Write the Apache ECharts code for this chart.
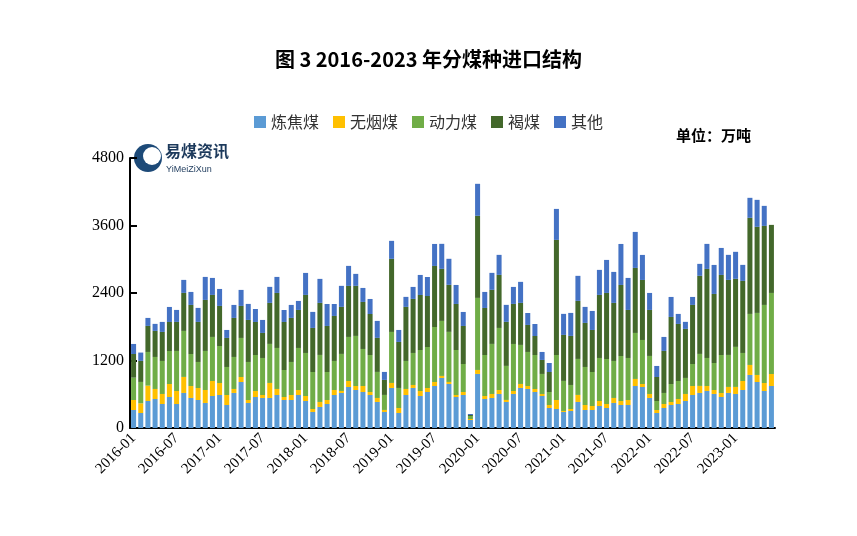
<!DOCTYPE html>
<html>
<head>
<meta charset="utf-8">
<script src="https://cdn.jsdelivr.net/npm/echarts@6/dist/echarts.min.js"></script>
<style>body{margin:0}#chart{width:857px;height:536px}</style>
</head>
<body>
<div id="chart"></div>
<script>
// 月份 2016-01 ~ 2023-06
var months = [];
for (var y = 2016; y <= 2023; y++) {
    for (var m = 1; m <= 12; m++) {
        if (y == 2023 && m > 6) break;
        months.push(y + "-" + (m < 10 ? "0" + m : m));
    }
}
var coking = [320,267,480,516,427,551,427,623,534,498,445,569,587,409,623,818,445,551,534,534,587,498,498,587,480,285,374,427,587,623,
    729,676,640,587,463,285,712,267,587,712,569,640,747,890,783,551,587,142,961,516,534,605,463,605,712,694,640,569,356,338,
    285,302,463,320,320,391,356,445,409,409,747,729,534,267,356,409,427,480,587,623,658,605,551,623,605,676,943,818,658,747];
var anthracite = [178,172,273,178,178,231,231,285,213,213,231,267,213,178,71,89,53,107,53,267,107,53,89,89,89,53,89,71,89,36,
    107,71,107,53,71,36,89,89,107,53,89,71,71,36,36,36,53,18,71,53,71,71,36,53,71,53,53,36,53,160,
    18,36,125,89,71,89,71,89,71,89,125,53,71,53,71,53,89,125,160,125,89,71,71,107,125,160,178,125,142,213];
var steam = [397,380,599,569,587,587,712,818,569,463,694,783,658,498,569,694,676,640,658,694,729,480,587,747,765,658,836,498,516,658,
    783,890,658,658,463,267,907,356,498,569,729,729,978,978,890,800,498,53,1281,729,890,1103,605,836,694,605,605,356,231,800,
    534,427,640,676,605,765,800,658,800,747,818,783,676,160,196,320,320,285,391,569,498,480,676,569,712,498,907,1103,1388,1441];
var lignite = [421,374,463,463,516,516,516,676,872,712,907,747,712,516,694,569,747,587,445,729,978,854,783,676,1032,783,925,818,800,836,
    907,890,836,729,605,267,1299,818,961,961,978,907,1085,925,836,818,676,18,1459,836,961,943,783,712,747,480,338,249,356,2046,
    818,872,1032,783,747,1121,1174,1032,1263,854,1156,1067,818,427,747,1192,1014,872,1050,1388,1583,1227,1423,1334,1210,1281,1708,1530,1405,1210];
var other = [178,148,142,125,178,267,213,231,231,249,409,302,302,142,231,285,285,231,231,285,285,213,231,160,391,285,427,391,213,374,
    356,213,249,267,302,142,320,213,178,213,356,338,391,445,463,338,249,18,569,285,302,356,302,302,374,213,213,142,160,551,
    374,409,445,285,338,445,587,551,729,569,640,445,302,196,249,356,178,125,142,213,445,516,480,445,480,285,356,480,356,0];
var names = ["炼焦煤", "无烟煤", "动力煤", "褐煤", "其他"];
var colors = ["#5B9BD5", "#FFC000", "#70AD47", "#43682B", "#4472C4"];
var yTicks = [0, 1200, 2400, 3600, 4800];

var dataList = [coking, anthracite, steam, lignite, other];
var series = [];
for (var i = 0; i < names.length; i++) {
    series.push({
        name: names[i],
        type: 'bar',
        stack: 'total',
        barCategoryGap: '30%',
        itemStyle: {color: colors[i]},
        data: dataList[i]
    });
}
var serif = '"Liberation Serif", "Noto Sans CJK SC", serif';
var option = {
    animation: false,
    title: {
        text: '图 3 2016-2023 年分煤种进口结构',
        left: 'center',
        top: 44,
        textStyle: {fontSize: 20, fontWeight: 'bold', color: '#000', fontFamily: '"Noto Sans CJK SC", sans-serif'}
    },
    legend: {
        data: names,
        top: 109,
        left: 'center',
        itemWidth: 12,
        itemHeight: 12,
        itemGap: 14,
        icon: 'rect',
        textStyle: {fontSize: 16, color: '#333', fontFamily: '"Noto Sans CJK SC", sans-serif'}
    },
    graphic: [
        {type: 'text', left: 676, top: 128, style: {text: '单位：万吨', font: 'bold 15px "Noto Sans CJK SC"', fill: '#000'}},
        {type: 'circle', shape: {cx: 148, cy: 158, r: 14}, style: {fill: '#1d4a78'}},
        {type: 'circle', shape: {cx: 152, cy: 156, r: 9}, style: {fill: '#fff'}},
        {type: 'text', left: 165, top: 143, style: {text: '易煤资讯', font: 'bold 16px "Noto Sans CJK SC"', fill: '#1d3a5c'}},
        {type: 'text', left: 166, top: 165, style: {text: 'YiMeiZiXun', font: '9px "Liberation Sans"', fill: '#1d3a5c'}}
    ],
    grid: {left: 130, right: 82, top: 158, bottom: 108},
    xAxis: {
        type: 'category',
        data: months,
        axisLine: {lineStyle: {color: '#000', width: 2}},
        axisTick: {inside: true, interval: 5, length: 6, lineStyle: {color: '#000', width: 2}},
        axisLabel: {interval: 5, rotate: 45, fontSize: 15, color: '#000', fontFamily: serif, margin: 8}
    },
    yAxis: {
        type: 'value',
        min: 0,
        max: 4800,
        interval: 1200,
        splitLine: {show: false},
        axisLine: {show: true, lineStyle: {color: '#000', width: 2}},
        axisTick: {show: true, inside: true, length: 7, lineStyle: {color: '#000', width: 2}},
        axisLabel: {fontSize: 16, color: '#000', fontFamily: serif, margin: 6,
            formatter: function (v) { return yTicks.indexOf(v) >= 0 ? v : ''; }}
    },
    series: series
};
var chart = echarts.init(document.getElementById('chart'));
chart.setOption(option);
</script>
</body>
</html>
